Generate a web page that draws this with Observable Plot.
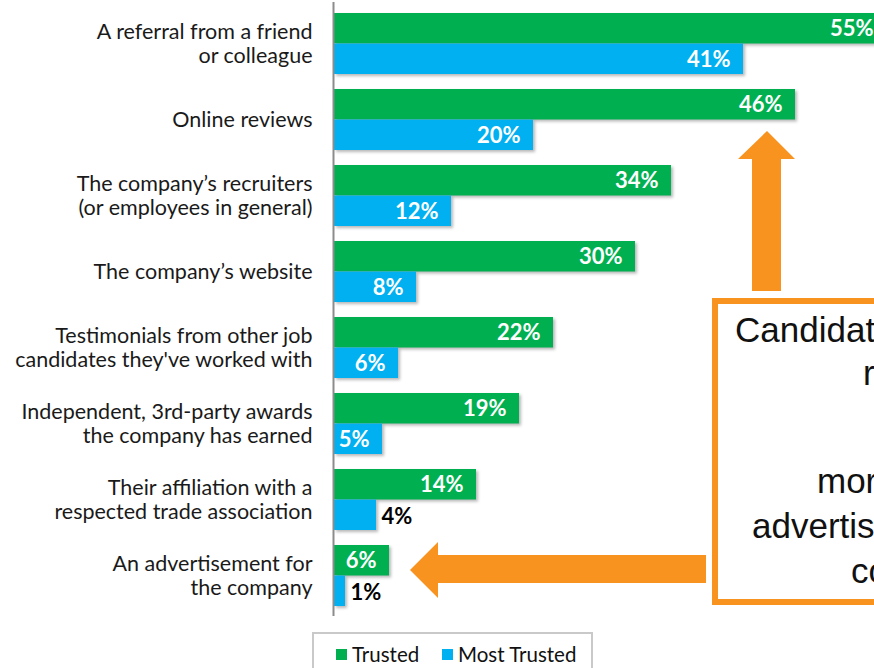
<!DOCTYPE html>
<html>
<head>
<meta charset="utf-8">
<script src="https://cdn.jsdelivr.net/npm/d3@7"></script>
<script src="https://cdn.jsdelivr.net/npm/@observablehq/plot@0.6"></script>
<style>
  html, body { margin: 0; padding: 0; background: #fff; overflow: hidden; }
  #wrap { position: relative; width: 874px; height: 668px; overflow: hidden; font-family: Lato, "Open Sans", sans-serif; }
  #wrap svg.plot-chart { overflow: hidden; display: block; }
  #legend { position: absolute; left: 312px; top: 632px; width: 277px; height: 50px; border: 2px solid #c9c9c9; box-sizing: content-box; font-family: Lato, sans-serif; font-size: 20.5px; color: #111; }
  #legend .item { position: absolute; top: 8px; display: flex; align-items: center; }
  #legend .sw { width: 11px; height: 11px; display: inline-block; margin-right: 5px; }
  #overlay { position: absolute; left: 0; top: 0; pointer-events: none; }
</style>
</head>
<body>
<div id="wrap">
  <div id="chart"></div>
  <div id="legend"></div>
  <svg id="overlay" width="874" height="668"></svg>
</div>
<script>
// ---- data ----
const categories = [
  "A referral from a friend\nor colleague",
  "Online reviews",
  "The company’s recruiters\n(or employees in general)",
  "The company’s website",
  "Testimonials from other job\ncandidates they've worked with",
  "Independent, 3rd-party awards\nthe company has earned",
  "Their affiliation with a\nrespected trade association",
  "An advertisement for\nthe company"
];
const series = ["Trusted", "Most Trusted"];
const trusted = [55.2, 46.1, 33.7, 30.1, 21.9, 18.5, 14.2, 5.5];
const mostTrusted = [40.9, 19.9, 11.7, 8.2, 6.4, 4.8, 4.2, 1.1];
const colors = ["#00B050", "#00B0F0"];
const calloutLines = [
  "Candidates are 9 times",
  "referrals",
  "trust",
  "more likely to trust",
  "advertisements for the",
  "company"
];

const data = categories.flatMap((c, i) => [
  {category: c, series: series[0], value: trusted[i]},
  {category: c, series: series[1], value: mostTrusted[i]}
]);
const green = data.filter(d => d.series === series[0]);
const blue = data.filter(d => d.series === series[1]);
const fmt = d => Math.round(d.value) + "%";
const inside = d => Math.round(d.value) >= 5;

const chart = Plot.plot({
  width: 874,
  height: 625,
  marginTop: 10,
  marginBottom: 17,
  marginLeft: 333,
  marginRight: 0,
  style: {fontFamily: "Lato, sans-serif", background: "white", overflow: "hidden"},
  x: {domain: [0, 55], range: [334, 884], axis: null},
  y: {domain: categories, paddingInner: 0.2, paddingOuter: 0, axis: null},
  color: {domain: series, range: colors},
  marks: [
    Plot.barX(green, {y: "category", x: "value", fill: "series", insetBottom: 30.5}),
    Plot.barX(blue, {y: "category", x: "value", fill: "series", insetTop: 30.5}),
    Plot.ruleX([0], {stroke: "#8c8c8c", strokeWidth: 2, dx: -1, insetTop: -8, insetBottom: -8}),
    Plot.text(green, {y: "category", x: "value", text: fmt, textAnchor: "end", dx: -13, dy: -15, fill: "white", fontWeight: "bold", fontSize: 22}),
    Plot.text(blue.filter(inside), {y: "category", x: "value", text: fmt, textAnchor: "end", dx: -13, dy: 16, fill: "white", fontWeight: "bold", fontSize: 22}),
    Plot.text(blue.filter(d => !inside(d)), {y: "category", x: "value", text: fmt, textAnchor: "start", dx: 5, dy: 17, fill: "black", fontWeight: "bold", fontSize: 22}),
    Plot.text(categories, {y: d => d, text: d => d, frameAnchor: "left", textAnchor: "end", dx: -21, dy: -1, fontSize: 21.5, fill: "#1a1a1a", lineHeight: 1.16})
  ]
});
chart.classList.add("plot-chart");
d3.select(chart).selectAll('g[aria-label="bar"]').style("filter", "drop-shadow(2px 2px 1.5px rgba(0,0,0,0.28))");
document.getElementById("chart").appendChild(chart);

// ---- legend ----
const legend = d3.select("#legend");
const legendX = [22, 128];
series.forEach((s, i) => {
  const it = legend.append("div").attr("class", "item").style("left", legendX[i] + "px");
  it.append("span").attr("class", "sw").style("background", colors[i]);
  it.append("span").text(s);
});

// ---- callout annotations ----
const ov = d3.select("#overlay");
const orange = "#F7931E";
ov.append("polygon").attr("fill", orange)
  .attr("points", [[767,131],[795,159],[781,159],[781,291],[752,291],[752,159],[738,159]].join(" "));
ov.append("polygon").attr("fill", orange)
  .attr("points", [[410,570],[438,542],[438,555],[706,555],[706,583],[438,583],[438,598]].join(" "));
ov.append("rect").attr("x", 715).attr("y", 301).attr("width", 320).attr("height", 301)
  .attr("fill", "white").attr("stroke", orange).attr("stroke-width", 6);
const linePos = [[735,342],[863,385],[900,430],[817,493],[752,538],[851,583]];
calloutLines.forEach((t, i) => {
  ov.append("text").attr("x", linePos[i][0]).attr("y", linePos[i][1])
    .style("font-family", "'Liberation Sans', Arial, sans-serif").attr("font-size", 35)
    .attr("fill", "#111").text(t);
});
</script>
</body>
</html>
